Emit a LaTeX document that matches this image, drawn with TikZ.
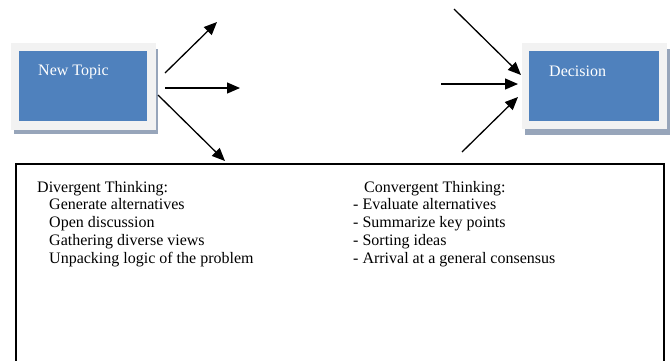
\documentclass[tikz,border=0pt]{standalone}
\usepackage{fontspec}
\setmainfont{Liberation Serif}
\usetikzlibrary{arrows.meta}
\definecolor{boxblue}{HTML}{4F81BD}
\definecolor{framegray}{HTML}{F2F2F2}
\definecolor{shadowgray}{HTML}{97A5BA}
\tikzset{
  arr/.style={line width=1.3pt,-{Triangle[length=13pt,width=11pt]}},
  txt/.style={anchor=base west,inner sep=0pt,font=\fontsize{16}{18}\selectfont},
  lbl/.style={anchor=base west,inner sep=0pt,text=white,font=\fontsize{16}{18}\selectfont},
  bluebox/.style={fill=boxblue,draw=none,inner sep=0pt,anchor=north west},
}
\begin{document}
\begin{tikzpicture}[x=1pt,y=-1pt]
\useasboundingbox (0,0) rectangle (671,360);
% New Topic box
\fill[shadowgray] (14,49) rectangle (158,134);
\fill[framegray] (11,43) rectangle (156,130);
\node[bluebox,minimum width=128pt,minimum height=70pt] (nt) at (19,51) {};
\node[lbl] (ntl) at (38,75) {New Topic};
% Decision box
\fill[shadowgray] (525,49) rectangle (670,135);
\fill[framegray] (522,43) rectangle (667,129);
\node[bluebox,minimum width=130pt,minimum height=70pt] (dc) at (529,51) {};
\node[lbl] (dcl) at (549,76) {Decision};
% arrows out of New Topic
\coordinate (o1s) at (165,73);
\coordinate (o1e) at (217,22);
\coordinate (o2s) at (165,88);
\coordinate (o2e) at (240,88);
\coordinate (o3s) at (158,95);
\coordinate (o3e) at (225,161);
\draw[arr] (o1s) -- (o1e);
\draw[arr] (o2s) -- (o2e);
\draw[arr] (o3s) -- (o3e);
% arrows into Decision
\coordinate (i1s) at (454,9);
\coordinate (i1e) at (521,75);
\coordinate (i2s) at (441,84);
\coordinate (i2e) at (518,84);
\coordinate (i3s) at (462,152);
\coordinate (i3e) at (518,97);
\draw[arr] (i1s) -- (i1e);
\draw[arr] (i2s) -- (i2e);
\draw[arr] (i3s) -- (i3e);
% big box (open at bottom)
\coordinate (bl) at (16,370);
\coordinate (tl) at (16,164);
\coordinate (tr) at (664,164);
\coordinate (br) at (664,370);
\draw[line width=1.7pt] (bl) -- (tl) -- (tr) -- (br);
% Divergent
\node[txt] (dv) at (37,192) {Divergent Thinking:};
\node[txt] (dv1) at (49,209) {Generate alternatives};
\node[txt] (dv2) at (49,227) {Open discussion};
\node[txt] (dv3) at (49,245) {Gathering diverse views};
\node[txt] (dv4) at (49,263) {Unpacking logic of the problem};
% Convergent
\node[txt] (cv) at (364,192) {Convergent Thinking:};
\node[txt] (cv1) at (353,209) {- Evaluate alternatives};
\node[txt] (cv2) at (353,227) {- Summarize key points};
\node[txt] (cv3) at (353,245) {- Sorting ideas};
\node[txt] (cv4) at (353,263) {- Arrival at a general consensus};
\end{tikzpicture}
\end{document}
